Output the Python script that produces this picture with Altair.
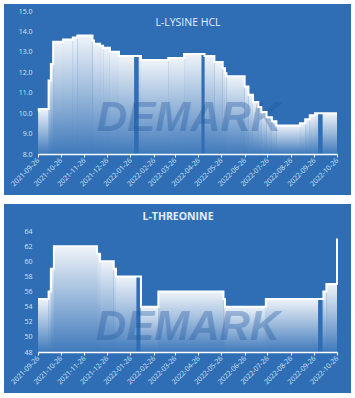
import altair as alt
import pandas as pd

# ---------------- data ----------------
lys_dates = ["2021-09-26", "2021-09-27", "2021-10-10", "2021-10-13", "2021-10-16", "2021-10-29",
             "2021-11-11", "2021-11-17", "2021-12-07", "2021-12-09", "2021-12-17", "2021-12-21",
             "2021-12-30", "2022-01-11", "2022-02-09", "2022-03-17", "2022-04-07", "2022-05-04",
             "2022-05-17", "2022-05-28", "2022-05-31", "2022-06-02", "2022-06-26", "2022-07-01",
             "2022-07-07", "2022-07-14", "2022-07-18", "2022-07-25", "2022-08-01", "2022-08-07",
             "2022-09-07", "2022-09-14", "2022-09-20", "2022-09-27", "2022-10-26"]
lys_values = [10.1, 10.2, 11.6, 12.4, 13.5, 13.6,
              13.7, 13.8, 13.55, 13.4, 13.3, 13.2,
              13.0, 12.8, 12.6, 12.7, 12.9, 12.8,
              12.5, 12.2, 11.95, 11.8, 11.3, 10.9,
              10.55, 10.3, 10.05, 9.8, 9.6, 9.4,
              9.5, 9.7, 9.9, 10.0, 10.0]

thr_dates = ["2021-09-26", "2021-10-10", "2021-10-13", "2021-10-17", "2021-12-13", "2021-12-17",
             "2022-01-04", "2022-01-07", "2022-02-09", "2022-03-04", "2022-05-29", "2022-05-31",
             "2022-07-24", "2022-10-08", "2022-10-12", "2022-10-26"]
thr_values = [55, 56, 59, 62, 61, 60,
              59, 58, 54, 56, 55, 54,
              55, 56, 57, 63]

lys_gap_start = ["2022-01-31", "2022-04-30", "2022-10-01"]
lys_gap_end = ["2022-02-06", "2022-05-04", "2022-10-07"]
thr_gap_start = ["2022-02-03", "2022-10-01"]
thr_gap_end = ["2022-02-08", "2022-10-07"]

tick_dates = ["2021-09-26", "2021-10-26", "2021-11-26", "2021-12-26", "2022-01-26", "2022-02-26",
              "2022-03-26", "2022-04-26", "2022-05-26", "2022-06-26", "2022-07-26", "2022-08-26",
              "2022-09-26", "2022-10-26"]
lys_ticks = [8, 9, 10, 11, 12, 13, 14, 15]
thr_ticks = [48, 50, 52, 54, 56, 58, 60, 62, 64]

lys_title = "L-LYSINE HCL"
thr_title = "L-THREONINE"
watermark = "DEMARK"

# ---------------- style ----------------
BG = "#2F6EB5"
LABEL = "#D3E2F2"
FONT = "Open Sans"
W = 299


def dt(s):
    y, m, d = (int(v) for v in s.split("-"))
    return alt.DateTime(year=y, month=m, date=d, utc=True)


grad = alt.Gradient(
    gradient="linear",
    stops=[alt.GradientStop(color="rgba(255,255,255,0.92)", offset=0),
           alt.GradientStop(color="rgba(255,255,255,0.55)", offset=0.45),
           alt.GradientStop(color="rgba(255,255,255,0.08)", offset=1)],
    x1=0, x2=0, y1=0, y2=1,
)


def panel(dates, values, gs, ge, ymin, ymax, yticks, yfmt, H, top_ext,
          title, title_x, title_y, title_bold, wm_x, wm_y):
    pts = pd.DataFrame({"date": dates, "value": values})
    segs = pts.copy()
    segs["next"] = segs["date"].shift(-1)
    segs = segs.dropna()
    gaps = pd.DataFrame({"start": gs, "end": ge})
    one = pd.DataFrame({"k": [0]})

    xscale = alt.Scale(type="utc", domain=[dt(tick_dates[0]), dt(tick_dates[-1])])
    yscale = alt.Scale(domain=[ymin, ymax], zero=False, nice=False)
    xaxis = alt.Axis(values=[dt(t) for t in tick_dates],
                     labelExpr="utcFormat(datum.value, '%Y-%m-%d')",
                     labelAngle=-45, labelAlign="right", labelBaseline="middle",
                     labelFontSize=7, labelColor=LABEL, labelFont=FONT, labelPadding=2,
                     domainColor="white", domainWidth=1.5, tickColor="white", tickSize=3,
                     tickWidth=1, grid=False, title=None, labelOverlap=False, zindex=2)
    yaxis = alt.Axis(values=yticks, format=yfmt, labelFontSize=7, labelColor=LABEL,
                     labelFont=FONT, domain=False, ticks=False, grid=False, title=None,
                     labelPadding=6, zindex=2)

    X = lambda f: alt.X(f, scale=xscale, axis=xaxis)
    Y = lambda f: alt.Y(f, scale=yscale, axis=yaxis)

    bg = alt.Chart(one).mark_rect(color=BG).encode(
        x=alt.value(-34), x2=alt.value(W + 14),
        y=alt.value(-top_ext), y2=alt.value(H + 41))

    bars = alt.Chart(segs).mark_bar(color=grad).encode(
        x=X("date:T"),
        x2="next:T",
        y=Y("value:Q"),
        y2=alt.datum(ymin))

    gap = alt.Chart(gaps).mark_rect(color=BG).encode(
        x=X("start:T"), x2="end:T",
        y=alt.value(0), y2=alt.value(H))

    wm = alt.Chart(one).mark_text(
        text=watermark, font="Liberation Sans", fontSize=42, fontWeight="bold",
        fontStyle="italic", color="#1F56A0", opacity=0.35).encode(
        x=alt.value(wm_x), y=alt.value(wm_y))

    line = alt.Chart(pts).mark_line(color="white", strokeWidth=2,
                                    interpolate="step-after").encode(
        x=X("date:T"), y=Y("value:Q"))

    ttl = alt.Chart(one).mark_text(
        text=title, font=FONT, fontSize=10.5,
        fontWeight="bold" if title_bold else "normal", color="#E6EFF9").encode(
        x=alt.value(title_x), y=alt.value(title_y))

    return alt.layer(bg, bars, gap, wm, line, ttl).properties(width=W, height=H)


top = panel(lys_dates, lys_values, lys_gap_start, lys_gap_end, 8, 15, lys_ticks, ".1f",
            143, 7, lys_title, 150, 12, False, 151, 107)
bottom = panel(thr_dates, thr_values, thr_gap_start, thr_gap_end, 48, 64, thr_ticks, "d",
               121, 27, thr_title, 140, -14, True, 150, 96)

chart = alt.vconcat(top, bottom, spacing=77, bounds="flush").properties(
    background="white",
    padding={"left": 4, "top": 4, "right": 4, "bottom": 5},
).configure_view(stroke=None)

chart.save("out.html", embed_options={"renderer": "svg", "actions": False})
